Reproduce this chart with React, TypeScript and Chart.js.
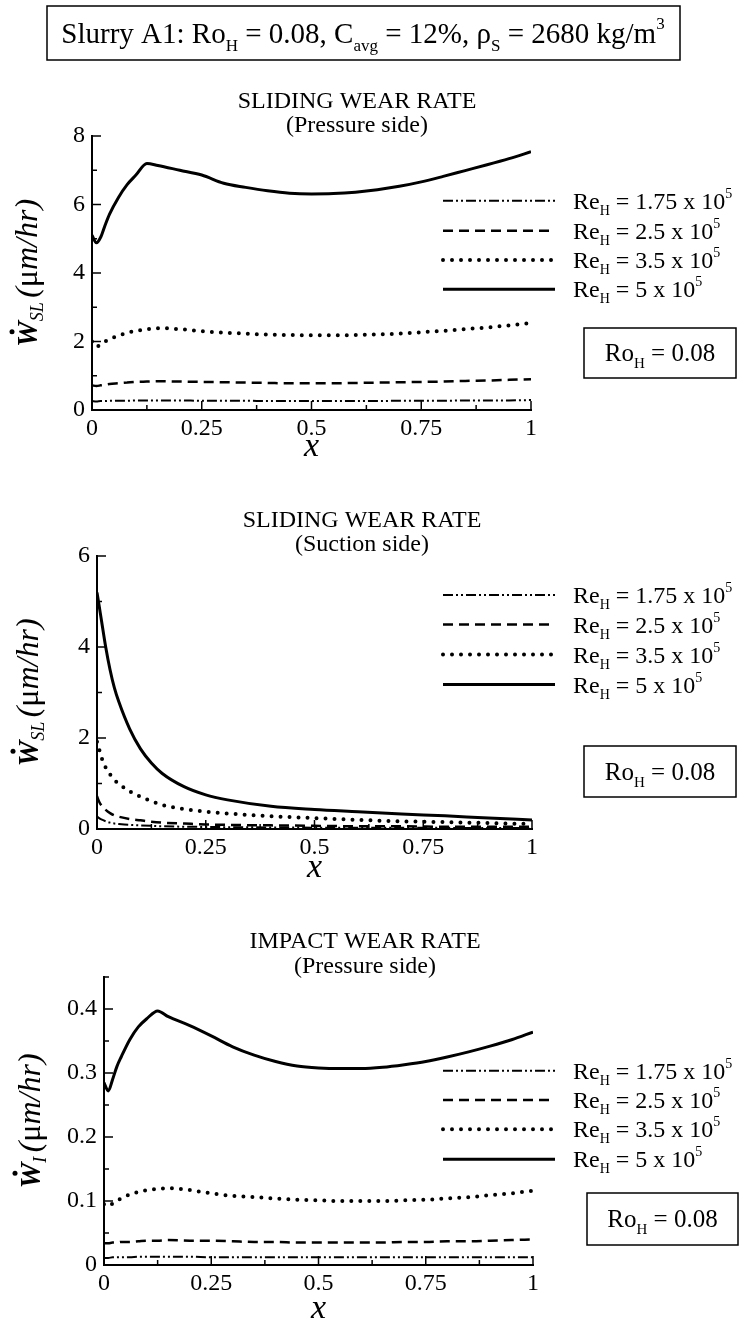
import React, { useEffect, useRef } from "react";
import { Chart, registerables } from "chart.js";

Chart.register(...registerables);

const SERIF = '"Liberation Serif", "Times New Roman", Times, serif';

// ---------- data ----------
const RE_VALUES = ["1.75", "2.5", "3.5", "5"];
const X_TICK_STEP = 0.25;

// Panel 1: sliding wear rate, pressure side
const P1_X = [0, 0.01, 0.02, 0.03, 0.04, 0.06, 0.08, 0.1, 0.125, 0.15, 0.2, 0.25, 0.3, 0.35, 0.4, 0.45, 0.5, 0.55, 0.6, 0.65, 0.7, 0.75, 0.8, 0.85, 0.9, 0.95, 1.0];
const P1_RE175 = [0.26, 0.25, 0.26, 0.26, 0.27, 0.27, 0.27, 0.28, 0.28, 0.28, 0.28, 0.27, 0.27, 0.27, 0.26, 0.26, 0.26, 0.26, 0.26, 0.26, 0.27, 0.27, 0.27, 0.28, 0.28, 0.28, 0.29];
const P1_RE25 = [0.72, 0.7, 0.72, 0.74, 0.76, 0.78, 0.8, 0.82, 0.83, 0.84, 0.83, 0.82, 0.81, 0.8, 0.79, 0.78, 0.78, 0.78, 0.79, 0.8, 0.81, 0.82, 0.83, 0.85, 0.86, 0.88, 0.9];
const P1_RE35 = [2.0, 1.85, 1.92, 2.0, 2.07, 2.17, 2.25, 2.31, 2.36, 2.39, 2.36, 2.3, 2.26, 2.23, 2.2, 2.19, 2.18, 2.18, 2.19, 2.21, 2.23, 2.27, 2.31, 2.36, 2.41, 2.47, 2.54];
const P1_RE5 = [5.1, 4.88, 5.05, 5.4, 5.72, 6.2, 6.58, 6.86, 7.2, 7.14, 7.0, 6.86, 6.62, 6.5, 6.4, 6.33, 6.31, 6.32, 6.36, 6.43, 6.53, 6.66, 6.82, 6.99, 7.16, 7.34, 7.54];

// Panel 2: sliding wear rate, suction side
const P2_X = [0, 0.005, 0.01, 0.02, 0.03, 0.04, 0.05, 0.075, 0.1, 0.125, 0.15, 0.2, 0.25, 0.3, 0.4, 0.5, 0.6, 0.7, 0.8, 0.9, 1.0];
const P2_RE175 = [0.28, 0.24, 0.21, 0.17, 0.14, 0.12, 0.11, 0.09, 0.08, 0.07, 0.06, 0.05, 0.045, 0.04, 0.035, 0.03, 0.03, 0.025, 0.025, 0.02, 0.02];
const P2_RE25 = [0.72, 0.6, 0.52, 0.42, 0.35, 0.3, 0.27, 0.22, 0.19, 0.16, 0.14, 0.12, 0.1, 0.09, 0.08, 0.07, 0.06, 0.06, 0.05, 0.05, 0.05];
const P2_RE35 = [1.92, 1.75, 1.58, 1.35, 1.2, 1.08, 0.99, 0.83, 0.71, 0.61, 0.53, 0.44, 0.38, 0.34, 0.28, 0.24, 0.2, 0.17, 0.15, 0.13, 0.11];
const P2_RE5 = [5.2, 4.9, 4.6, 4.0, 3.5, 3.1, 2.8, 2.2, 1.76, 1.45, 1.22, 0.93, 0.75, 0.64, 0.5, 0.43, 0.38, 0.33, 0.29, 0.24, 0.2];

// Panel 3: impact wear rate, pressure side
const P3_X = [0, 0.01, 0.02, 0.03, 0.04, 0.06, 0.08, 0.1, 0.125, 0.15, 0.2, 0.25, 0.3, 0.35, 0.4, 0.45, 0.5, 0.55, 0.6, 0.65, 0.7, 0.75, 0.8, 0.85, 0.9, 0.95, 1.0];
const P3_RE175 = [0.011, 0.011, 0.012, 0.012, 0.012, 0.012, 0.013, 0.013, 0.013, 0.013, 0.013, 0.012, 0.012, 0.012, 0.012, 0.012, 0.012, 0.012, 0.012, 0.012, 0.012, 0.012, 0.012, 0.012, 0.012, 0.012, 0.012];
const P3_RE25 = [0.034, 0.034, 0.035, 0.035, 0.036, 0.036, 0.037, 0.038, 0.038, 0.039, 0.038, 0.038, 0.037, 0.036, 0.036, 0.035, 0.035, 0.035, 0.035, 0.035, 0.036, 0.036, 0.037, 0.037, 0.038, 0.039, 0.04];
const P3_RE35 = [0.095, 0.092, 0.096, 0.1, 0.104, 0.11, 0.114, 0.117, 0.119, 0.12, 0.117, 0.112, 0.108, 0.106, 0.104, 0.102, 0.101, 0.1, 0.1, 0.1, 0.101, 0.102, 0.104, 0.106, 0.109, 0.112, 0.116];
const P3_RE5 = [0.285, 0.272, 0.29, 0.31, 0.325, 0.352, 0.372, 0.385, 0.397, 0.388, 0.374, 0.358, 0.341, 0.328, 0.318, 0.311, 0.308, 0.307, 0.307, 0.309, 0.313, 0.318, 0.325, 0.333, 0.342, 0.352, 0.364];

// ---------- styles ----------
const LINE_STYLES = [
  { dash: [10, 3, 2, 3, 2, 3], width: 2, cap: "butt" },
  { dash: [10, 6], width: 2.5, cap: "butt" },
  { dash: [0, 9], width: 4, cap: "round" },
  { dash: [] as number[], width: 3, cap: "butt" },
];

type Seg = { t: string; size: number; style?: string; weight?: string; dy?: number };

function segFont(s: Seg) {
  return `${s.style || "normal"} ${s.weight || "normal"} ${s.size}px ${SERIF}`;
}
function richWidth(ctx: CanvasRenderingContext2D, segs: Seg[]) {
  let w = 0;
  for (const s of segs) {
    ctx.font = segFont(s);
    w += ctx.measureText(s.t).width;
  }
  return w;
}
function drawRich(ctx: CanvasRenderingContext2D, segs: Seg[], x: number, y: number, align: "left" | "center" | "right") {
  const w = richWidth(ctx, segs);
  let cx = align === "center" ? x - w / 2 : align === "right" ? x - w : x;
  ctx.textAlign = "left";
  ctx.textBaseline = "alphabetic";
  for (const s of segs) {
    ctx.font = segFont(s);
    ctx.fillText(s.t, cx, y + (s.dy || 0));
    cx += ctx.measureText(s.t).width;
  }
  return w;
}

type PanelCfg = {
  top: number;
  height: number;
  plotLeft: number;
  plotRight: number;
  plotTop: number;
  plotBottom: number;
  yMax: number;
  yStep: number;
  title: string;
  subtitle: string;
  titleX: number;
  titleY: number;
  subY: number;
  legendY: number[];
  roBox: number[];
  xTitleY: number;
  yTitleX: number;
  ySub: string;
  mainTitle: boolean;
  xs: number[];
  series: number[][];
};

const PANELS: PanelCfg[] = [
  {
    top: 0, height: 470, plotLeft: 92, plotRight: 531, plotTop: 136, plotBottom: 410,
    yMax: 8, yStep: 2, title: "SLIDING WEAR RATE", subtitle: "(Pressure side)",
    titleX: 357, titleY: 108, subY: 131.5, legendY: [200.7, 230.7, 260, 289.3],
    roBox: [584, 328, 736, 378], xTitleY: 456, yTitleX: 37, ySub: "SL", mainTitle: true,
    xs: P1_X, series: [P1_RE175, P1_RE25, P1_RE35, P1_RE5],
  },
  {
    top: 470, height: 420, plotLeft: 97, plotRight: 532, plotTop: 556, plotBottom: 829,
    yMax: 6, yStep: 2, title: "SLIDING WEAR RATE", subtitle: "(Suction side)",
    titleX: 362, titleY: 527, subY: 551, legendY: [595, 624.5, 654.5, 684.5],
    roBox: [584, 746, 736, 797], xTitleY: 877, yTitleX: 38, ySub: "SL", mainTitle: false,
    xs: P2_X, series: [P2_RE175, P2_RE25, P2_RE35, P2_RE5],
  },
  {
    top: 890, height: 436, plotLeft: 104, plotRight: 533, plotTop: 977, plotBottom: 1265,
    yMax: 0.45, yStep: 0.1, title: "IMPACT WEAR RATE", subtitle: "(Pressure side)",
    titleX: 365, titleY: 948, subY: 973, legendY: [1070.7, 1100, 1129.3, 1159.3],
    roBox: [587, 1193, 738, 1245], xTitleY: 1318, yTitleX: 40, ySub: "I", mainTitle: false,
    xs: P3_X, series: [P3_RE175, P3_RE25, P3_RE35, P3_RE5],
  },
];

function fmt(v: number) {
  return String(Math.round(v * 1000) / 1000);
}

function makeDecor(cfg: PanelCfg) {
  return {
    id: "decor",
    afterDraw(chart: any) {
      const ctx: CanvasRenderingContext2D = chart.ctx;
      const T = cfg.top;
      const { left, right, top, bottom } = chart.chartArea;
      const xs = chart.scales.x;
      const ys = chart.scales.y;
      ctx.save();
      ctx.fillStyle = "#000";
      ctx.strokeStyle = "#000";
      ctx.setLineDash([]);
      ctx.lineCap = "butt";

      // inward ticks
      ctx.lineWidth = 1.5;
      const nx = Math.round(1 / (X_TICK_STEP / 2));
      for (let i = 0; i <= nx; i++) {
        const px = xs.getPixelForValue((i * X_TICK_STEP) / 2);
        const len = i % 2 === 0 ? 9 : 5;
        ctx.beginPath();
        ctx.moveTo(px, bottom);
        ctx.lineTo(px, bottom - len);
        ctx.stroke();
      }
      const ny = Math.round(cfg.yMax / (cfg.yStep / 2));
      for (let i = 0; i <= ny; i++) {
        const py = ys.getPixelForValue((i * cfg.yStep) / 2);
        const len = i % 2 === 0 ? 9 : 5;
        ctx.beginPath();
        ctx.moveTo(left, py);
        ctx.lineTo(left + len, py);
        ctx.stroke();
      }

      // main title
      if (cfg.mainTitle) {
        ctx.lineWidth = 1.5;
        ctx.strokeRect(47, 6 - T, 633, 54);
        drawRich(
          ctx,
          [
            { t: "Slurry A1: Ro", size: 29 },
            { t: "H", size: 17, dy: 8 },
            { t: " = 0.08, C", size: 29 },
            { t: "avg", size: 17, dy: 8 },
            { t: " = 12%, \u03C1", size: 29 },
            { t: "S", size: 17, dy: 8 },
            { t: " = 2680 kg/m", size: 29 },
            { t: "3", size: 17, dy: -14 },
          ],
          363,
          43 - T,
          "center"
        );
      }

      // panel titles
      drawRich(ctx, [{ t: cfg.title, size: 24 }], cfg.titleX, cfg.titleY - T, "center");
      drawRich(ctx, [{ t: cfg.subtitle, size: 24 }], cfg.titleX, cfg.subY - T, "center");

      // x title
      drawRich(ctx, [{ t: "x", size: 34, style: "italic" }], (left + right) / 2, cfg.xTitleY - T, "center");

      // y title (rotated)
      ctx.save();
      ctx.translate(cfg.yTitleX, (top + bottom) / 2);
      ctx.rotate(-Math.PI / 2);
      const ysegs: Seg[] = [
        { t: "W", size: 29, style: "italic", weight: "bold" },
        { t: cfg.ySub, size: 18, style: "italic", dy: 6 },
        { t: " ", size: 18 },
        { t: "(", size: 32, style: "italic" },
        { t: "\u03BC", size: 32 },
        { t: "m/hr)", size: 32, style: "italic" },
      ];
      const yw = richWidth(ctx, ysegs);
      const x0 = -yw / 2;
      drawRich(ctx, ysegs, x0, 0, "left");
      ctx.font = segFont(ysegs[0]);
      const ww = ctx.measureText("W").width;
      ctx.beginPath();
      ctx.arc(x0 + ww * 0.6, -25, 2.5, 0, Math.PI * 2);
      ctx.fill();
      ctx.restore();

      // legend
      for (let i = 0; i < RE_VALUES.length; i++) {
        const ly = cfg.legendY[i] - T;
        const st = LINE_STYLES[i];
        ctx.save();
        ctx.lineWidth = st.width;
        ctx.setLineDash(st.dash);
        ctx.lineCap = st.cap as CanvasLineCap;
        ctx.beginPath();
        ctx.moveTo(443, ly);
        ctx.lineTo(555, ly);
        ctx.stroke();
        ctx.restore();
        drawRich(
          ctx,
          [
            { t: "Re", size: 24 },
            { t: "H", size: 14, dy: 6 },
            { t: " = " + RE_VALUES[i] + " x 10", size: 24 },
            { t: "5", size: 14, dy: -11 },
          ],
          573,
          ly + 8,
          "left"
        );
      }

      // Ro box
      const [bx1, by1, bx2, by2] = cfg.roBox;
      ctx.lineWidth = 1.5;
      ctx.setLineDash([]);
      ctx.strokeRect(bx1, by1 - T, bx2 - bx1, by2 - by1);
      drawRich(
        ctx,
        [
          { t: "Ro", size: 25 },
          { t: "H", size: 15, dy: 7 },
          { t: " = 0.08", size: 25 },
        ],
        (bx1 + bx2) / 2,
        (by1 + by2) / 2 - T + 8,
        "center"
      );
      ctx.restore();
    },
  };
}

function Panel({ cfg }: { cfg: PanelCfg }) {
  const ref = useRef<HTMLCanvasElement | null>(null);
  useEffect(() => {
    if (!ref.current) return;
    const datasets = cfg.series.map((vals, i) => ({
      label: "Re_H = " + RE_VALUES[i] + " x 10^5",
      data: vals.map((v, j) => ({ x: cfg.xs[j], y: v })),
      borderColor: "#000",
      backgroundColor: "#000",
      borderWidth: LINE_STYLES[i].width,
      borderDash: LINE_STYLES[i].dash,
      borderCapStyle: LINE_STYLES[i].cap,
      pointRadius: 0,
      fill: false,
      cubicInterpolationMode: "monotone",
    }));
    const chart = new Chart(ref.current, {
      type: "line",
      data: { datasets } as any,
      options: {
        responsive: false,
        animation: false,
        devicePixelRatio: 1,
        layout: {
          padding: { left: 0, right: 740 - cfg.plotRight, top: cfg.plotTop - cfg.top, bottom: 0 },
        },
        plugins: {
          legend: { display: false },
          title: { display: false },
          tooltip: { enabled: false },
        },
        scales: {
          x: {
            type: "linear",
            min: 0,
            max: 1,
            border: { display: true, color: "#000", width: 2 },
            grid: { display: false, drawTicks: false },
            ticks: {
              stepSize: X_TICK_STEP,
              color: "#000",
              font: { family: SERIF, size: 24 },
              padding: 4,
              maxRotation: 0,
              autoSkip: false,
              callback: (v: any) => fmt(Number(v)),
            },
            afterFit: (s: any) => {
              s.height = cfg.top + cfg.height - cfg.plotBottom;
            },
          },
          y: {
            type: "linear",
            min: 0,
            max: cfg.yMax,
            border: { display: true, color: "#000", width: 2 },
            grid: { display: false, drawTicks: false },
            ticks: {
              stepSize: cfg.yStep,
              includeBounds: false,
              color: "#000",
              font: { family: SERIF, size: 24 },
              padding: 7,
              autoSkip: false,
              callback: (v: any) => fmt(Number(v)),
            },
            afterFit: (s: any) => {
              s.width = cfg.plotLeft;
            },
          },
        },
      } as any,
      plugins: [makeDecor(cfg)],
    });
    return () => chart.destroy();
  }, []);
  return (
    <canvas
      ref={ref}
      width={740}
      height={cfg.height}
      style={{ position: "absolute", left: 0, top: cfg.top, width: 740, height: cfg.height }}
    />
  );
}

export default function App() {
  return (
    <div style={{ position: "absolute", left: 0, top: 0, width: 740, height: 1326, background: "#fff", overflow: "hidden" }}>
      {PANELS.map((p, i) => (
        <Panel key={i} cfg={p} />
      ))}
    </div>
  );
}
